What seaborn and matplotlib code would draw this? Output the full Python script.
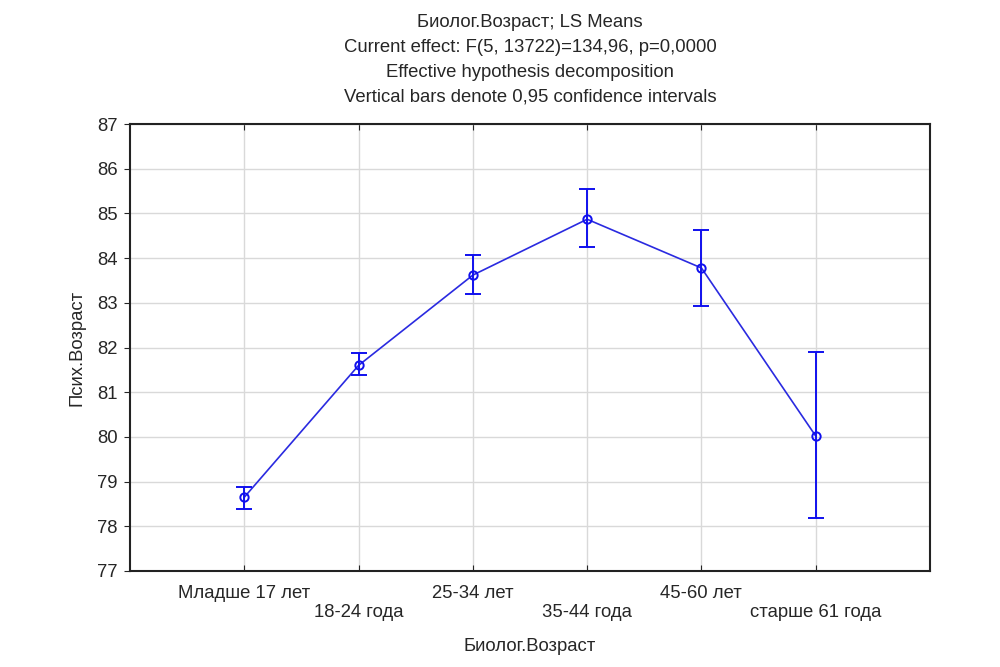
import numpy as np
import pandas as pd
import seaborn as sns
import matplotlib.pyplot as plt

groups = ['Младше 17 лет', '18-24 года', '25-34 лет', '35-44 года', '45-60 лет', 'старше 61 года']
means = [78.65, 81.6, 83.62, 84.87, 83.78, 80.02]
ci_low = [78.39, 81.38, 83.2, 84.25, 82.93, 78.19]
ci_high = [78.88, 81.88, 84.07, 85.55, 84.63, 81.9]

df = pd.DataFrame({'pos': np.arange(len(groups)), 'mean': means, 'lo': ci_low, 'hi': ci_high})

sns.set_style('white')
plt.rcParams['font.family'] = ['Liberation Sans', 'DejaVu Sans']
fs = 13.3

fig = plt.figure(figsize=(10, 6.67), dpi=100)
ax = fig.add_axes([0.13, 0.144, 0.80, 0.670])

sns.lineplot(data=df, x='pos', y='mean', ax=ax, color='#2a2ae0', lw=1.2,
             marker='o', markersize=6, markerfacecolor='none',
             markeredgecolor='#1010ee', markeredgewidth=1.4)
ax.errorbar(df['pos'], df['mean'],
            yerr=[df['mean'] - df['lo'], df['hi'] - df['mean']],
            fmt='none', ecolor='#1010ee', elinewidth=1.4, capsize=6, capthick=1.4)

ax.set_xlim(-1, 6)
ax.set_ylim(77, 87)
ax.set_yticks(range(77, 88))
ax.set_xticks(df['pos'])
ax.set_xticklabels([g if i % 2 == 0 else '\n' + g for i, g in enumerate(groups)], fontsize=fs)
ax.tick_params(axis='y', labelsize=fs, direction='out', length=4, left=True, pad=5)
ax.tick_params(axis='x', direction='in', length=4, top=True, bottom=True, pad=10)
ax.grid(True, color='#d9d9d9', lw=1)
for s in ax.spines.values():
    s.set_color('#222222')
    s.set_linewidth(1.5)

ax.set_xlabel('Биолог.Возраст', fontsize=fs, labelpad=12)
ax.set_ylabel('Псих.Возраст', fontsize=fs, labelpad=8)
ax.set_title('Биолог.Возраст; LS Means\n'
             'Current effect: F(5, 13722)=134,96, p=0,0000\n'
             'Effective hypothesis decomposition\n'
             'Vertical bars denote 0,95 confidence intervals',
             fontsize=fs, linespacing=1.62, pad=16)

fig.savefig('out.png', dpi=100)
